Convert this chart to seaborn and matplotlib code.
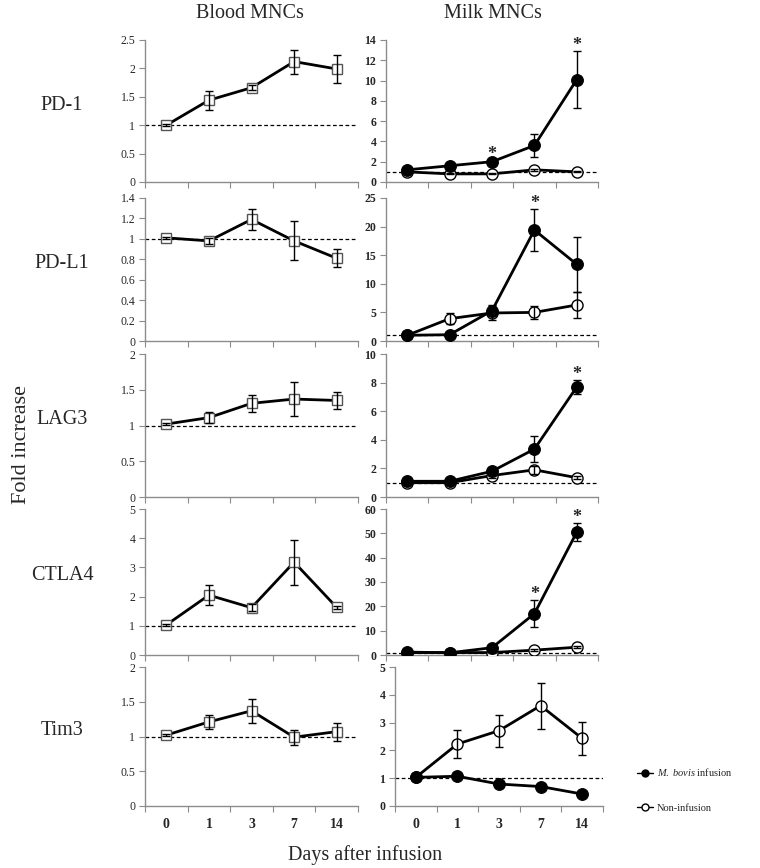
import numpy as np
import pandas as pd
import matplotlib
matplotlib.use("Agg")
import matplotlib.pyplot as plt
import seaborn as sns
from matplotlib.ticker import FixedLocator, NullFormatter, FixedFormatter
from matplotlib.lines import Line2D

sns.set_theme(style="white")
plt.rcParams['font.family'] = ['Liberation Serif', 'DejaVu Serif']
plt.rcParams['mathtext.fontset'] = 'custom'
plt.rcParams['mathtext.it'] = 'Liberation Serif:italic'
plt.rcParams['mathtext.rm'] = 'Liberation Serif'

days = ["0", "1", "3", "7", "14"]
genes = ["PD-1", "PD-L1", "LAG3", "CTLA4", "Tim3"]

# Blood MNCs (mean, error)
blood_pd1 = [1.00, 1.44, 1.66, 2.12, 1.99]
blood_pd1_err = [0.02, 0.17, 0.04, 0.21, 0.25]
blood_pdl1 = [1.01, 0.98, 1.19, 0.98, 0.81]
blood_pdl1_err = [0.01, 0.03, 0.10, 0.19, 0.09]
blood_lag3 = [1.02, 1.11, 1.31, 1.37, 1.35]
blood_lag3_err = [0.01, 0.08, 0.12, 0.24, 0.12]
blood_ctla4 = [1.03, 2.05, 1.62, 3.18, 1.63]
blood_ctla4_err = [0.03, 0.35, 0.13, 0.77, 0.04]
blood_tim3 = [1.02, 1.21, 1.37, 0.99, 1.07]
blood_tim3_err = [0.01, 0.10, 0.17, 0.11, 0.13]

# Milk MNCs: M. bovis infusion (filled) and Non-infusion (open)
milk_pd1_inf = [1.2, 1.6, 2.0, 3.6, 10.1]
milk_pd1_inf_err = [0.1, 0.1, 0.15, 1.15, 2.8]
milk_pd1_non = [1.0, 0.8, 0.8, 1.2, 1.0]
milk_pd1_non_err = [0.0, 0.05, 0.05, 0.1, 0.05]

milk_pdl1_inf = [1.0, 1.1, 5.3, 19.4, 13.4]
milk_pdl1_inf_err = [0.1, 0.1, 1.0, 3.6, 4.8]
milk_pdl1_non = [1.0, 3.9, 4.9, 5.0, 6.3]
milk_pdl1_non_err = [0.0, 1.0, 1.2, 1.1, 2.2]

milk_lag3_inf = [1.1, 1.1, 1.8, 3.35, 7.7]
milk_lag3_inf_err = [0.05, 0.05, 0.3, 0.9, 0.5]
milk_lag3_non = [1.0, 1.0, 1.5, 1.9, 1.35]
milk_lag3_non_err = [0.0, 0.05, 0.15, 0.3, 0.1]

milk_ctla4_inf = [1.2, 0.9, 3.0, 17.0, 50.5]
milk_ctla4_inf_err = [0.1, 0.1, 0.4, 5.5, 3.8]
milk_ctla4_non = [1.0, 1.0, 1.0, 2.0, 3.2]
milk_ctla4_non_err = [0.0, 0.1, 0.1, 0.3, 0.5]

milk_tim3_inf = [1.03, 1.07, 0.79, 0.70, 0.43]
milk_tim3_inf_err = [0.02, 0.03, 0.03, 0.03, 0.04]
milk_tim3_non = [1.03, 2.23, 2.71, 3.61, 2.43]
milk_tim3_non_err = [0.02, 0.52, 0.57, 0.83, 0.60]

# significance marks (index of day) for milk panels
milk_sig = [[2, 4], [3], [4], [3, 4], []]

blood_sets = [(blood_pd1, blood_pd1_err), (blood_pdl1, blood_pdl1_err),
              (blood_lag3, blood_lag3_err), (blood_ctla4, blood_ctla4_err),
              (blood_tim3, blood_tim3_err)]
milk_sets = [(milk_pd1_inf, milk_pd1_inf_err, milk_pd1_non, milk_pd1_non_err),
             (milk_pdl1_inf, milk_pdl1_inf_err, milk_pdl1_non, milk_pdl1_non_err),
             (milk_lag3_inf, milk_lag3_inf_err, milk_lag3_non, milk_lag3_non_err),
             (milk_ctla4_inf, milk_ctla4_inf_err, milk_ctla4_non, milk_ctla4_non_err),
             (milk_tim3_inf, milk_tim3_inf_err, milk_tim3_non, milk_tim3_non_err)]
blood_scale = [(2.5, 0.5), (1.4, 0.2), (2.0, 0.5), (5, 1), (2.0, 0.5)]
milk_scale = [(14, 2), (25, 5), (10, 2), (60, 10), (5, 1)]

W, H = 760, 868
fig = plt.figure(figsize=(W / 100, H / 100), dpi=100)

rows_px = [(40, 182), (198, 341), (354, 497), (509, 655), (667, 806)]
left_px = (145, 358)
right_px = [(386, 598)] * 4 + [(395, 603)]

SPINE = "#8c8c8c"


def fig_rect(xpx, ypx):
    x0, x1 = xpx
    t, b = ypx
    return [x0 / W, 1 - b / H, (x1 - x0) / W, (b - t) / H]


def style_axis(ax, ymax, step, bottom, bold_y):
    ax.set_xlim(-0.5, len(days) - 0.5)
    ax.set_ylim(0, ymax)
    ticks = np.arange(0, ymax + step / 2, step)
    ax.set_yticks(ticks)
    ax.set_yticklabels([f"{v:g}" for v in ticks], fontsize=8.5,
                       fontweight="bold" if bold_y else "normal")
    ax.xaxis.set_major_locator(FixedLocator(np.arange(-0.5, len(days), 1.0)))
    ax.xaxis.set_major_formatter(NullFormatter())
    ax.xaxis.set_minor_locator(FixedLocator(np.arange(len(days))))
    if bottom:
        ax.xaxis.set_minor_formatter(FixedFormatter(days))
    else:
        ax.xaxis.set_minor_formatter(NullFormatter())
    ax.tick_params(axis="x", which="minor", length=0, pad=9, labelsize=10)
    for lab in ax.xaxis.get_minorticklabels():
        lab.set_fontweight("bold")
    ax.tick_params(axis="x", which="major", direction="out", length=4,
                   width=0.8, color=SPINE, bottom=True)
    ax.tick_params(axis="y", direction="out", length=4, width=0.8,
                   color=SPINE, left=True, pad=3)
    for s in ["top", "right"]:
        ax.spines[s].set_visible(False)
    for s in ["left", "bottom"]:
        ax.spines[s].set_color(SPINE)
        ax.spines[s].set_linewidth(1.0)
    ax.set_xlabel("")
    ax.set_ylabel("")
    ax.axhline(1, color="black", lw=0.9, ls=(0, (3, 2)), zorder=1)


for i in range(5):
    bottom = (i == 4)
    # ---- Blood
    axb = fig.add_axes(fig_rect(left_px, rows_px[i]))
    vals, errs = blood_sets[i]
    dfb = pd.DataFrame({"day": days, "fold": vals})
    sns.lineplot(data=dfb, x="day", y="fold", ax=axb, sort=False, color="black",
                 lw=2.0, marker="s", markersize=7, markerfacecolor="white",
                 markeredgecolor="#555555", markeredgewidth=1.0, zorder=3)
    axb.errorbar(days, vals, yerr=errs, fmt="none", ecolor="black",
                 elinewidth=1.0, capsize=3, capthick=1.0, zorder=4)
    style_axis(axb, *blood_scale[i], bottom, False)

    # ---- Milk
    axm = fig.add_axes(fig_rect(right_px[i], rows_px[i]))
    inf, inf_err, non, non_err = milk_sets[i]
    dfi = pd.DataFrame({"day": days, "fold": inf})
    dfn = pd.DataFrame({"day": days, "fold": non})
    sns.lineplot(data=dfn, x="day", y="fold", ax=axm, sort=False, color="black",
                 lw=2.0, marker="o", markersize=8, markerfacecolor="white",
                 markeredgecolor="black", markeredgewidth=1.0, zorder=3)
    axm.errorbar(days, non, yerr=non_err, fmt="none", ecolor="black",
                 elinewidth=1.0, capsize=3, capthick=1.0, zorder=4)
    sns.lineplot(data=dfi, x="day", y="fold", ax=axm, sort=False, color="black",
                 lw=2.0, marker="o", markersize=8.5, markerfacecolor="black",
                 markeredgecolor="black", zorder=5)
    axm.errorbar(days, inf, yerr=inf_err, fmt="none", ecolor="black",
                 elinewidth=1.0, capsize=3, capthick=1.0, zorder=6)
    style_axis(axm, *milk_scale[i], bottom, True)
    for k in milk_sig[i]:
        axm.annotate("*", xy=(k, inf[k] + inf_err[k]), xytext=(0, -2),
                     textcoords="offset points", ha="center", va="bottom",
                     fontsize=13, fontweight="bold")

    # row label
    t, b = rows_px[i]
    fig.text(62 / W, 1 - ((t + b) / 2 - 6) / H, genes[i], ha="center",
             va="center", fontsize=14.5)

    if i == 4:
        handles = [Line2D([], [], color="black", lw=1.0, marker="o",
                          markersize=5, markerfacecolor="black"),
                   Line2D([], [], color="black", lw=1.0, marker="o",
                          markersize=5, markerfacecolor="white")]
        fig.legend(handles, [r"$\mathit{M.\ bovis}$ infusion", "Non-infusion"],
                   loc="upper left", bbox_to_anchor=(628 / W, 1 - 757 / H),
                   frameon=False, fontsize=7.5, handlelength=1.5,
                   handletextpad=0.4, labelspacing=2.4)

fig.text(250 / W, 1 - 13 / H, "Blood MNCs", ha="center", va="center", fontsize=14.5)
fig.text(493 / W, 1 - 13 / H, "Milk MNCs", ha="center", va="center", fontsize=14.5)
fig.text(22 / W, 1 - 445 / H, "Fold increase", ha="center", va="center",
         rotation=90, fontsize=16)
fig.text(365 / W, 1 - 855 / H, "Days after infusion", ha="center",
         va="center", fontsize=14.5)

fig.savefig("out.png", dpi=100)
